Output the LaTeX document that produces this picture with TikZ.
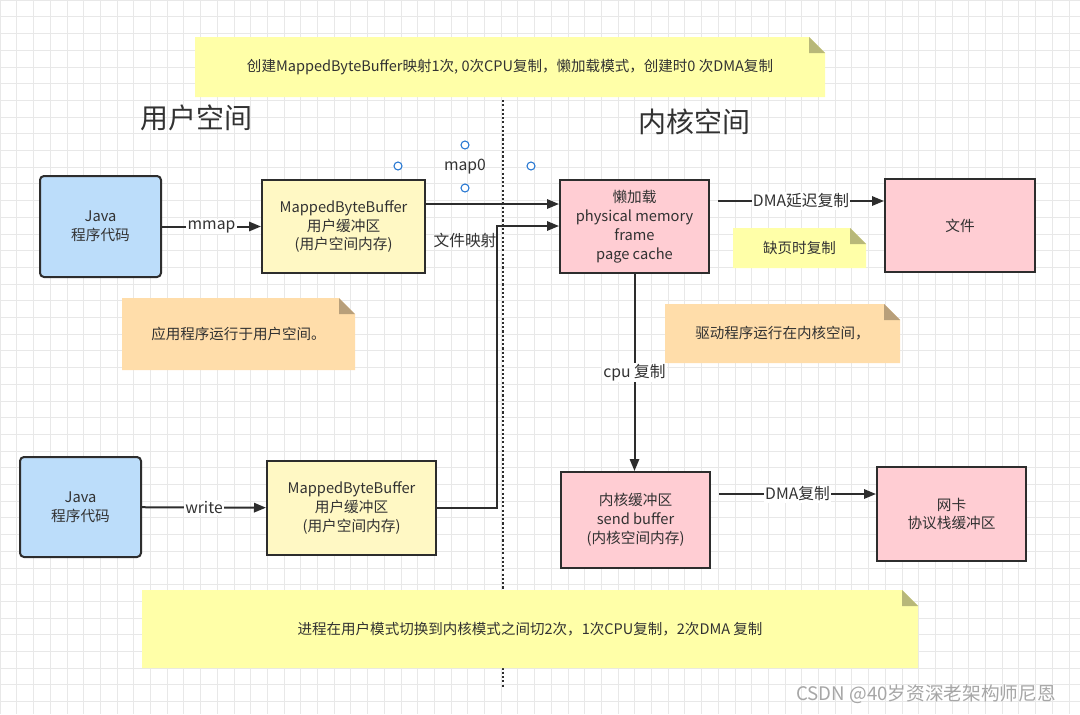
\documentclass[tikz,border=0pt]{standalone}
\usepackage{fontspec}
\setmainfont{Noto Sans CJK SC}
\usetikzlibrary{arrows.meta}
\definecolor{javablue}{RGB}{188,221,250}
\definecolor{bufyellow}{RGB}{255,248,196}
\definecolor{kernpink}{RGB}{255,205,211}
\definecolor{noteyellow}{RGB}{255,255,168}
\definecolor{noteorange}{RGB}{255,221,170}
\definecolor{boxline}{RGB}{45,45,45}
\definecolor{txt}{RGB}{50,50,50}
\definecolor{handle}{RGB}{40,120,210}
\definecolor{gridc}{RGB}{232,232,232}

\tikzset{
  box/.style={draw=boxline,line width=1.5pt,align=center,text=txt,inner sep=0pt,
    font=\fontsize{11}{14.2}\selectfont},
  javabox/.style={box,fill=javablue,rounded corners=3pt},
  userbuf/.style={box,fill=bufyellow},
  kernbuf/.style={box,fill=kernpink},
  arr/.style={line width=1.5pt,draw=boxline,-{Triangle[length=9pt,width=7pt]}},
  lab/.style={fill=white,inner sep=1pt,text=txt,font=\fontsize{11.8}{13}\selectfont},
  note/.style={text=txt,align=center,inner sep=0pt,font=\fontsize{10.9}{13}\selectfont,
    path picture={
      \fill[#1] (path picture bounding box.south west)
        |- ([xshift=-12pt]path picture bounding box.north east)
        -- ([yshift=-12pt]path picture bounding box.north east)
        -- (path picture bounding box.south east) -- cycle;
      \fill[#1!72!black] ([xshift=-12pt]path picture bounding box.north east)
        -- ([xshift=-12pt,yshift=-12pt]path picture bounding box.north east)
        -- ([yshift=-12pt]path picture bounding box.north east) -- cycle;}},
  title/.style={text=txt,font=\fontsize{21}{24}\selectfont},
  dot/.style={circle,draw=handle,fill=white,line width=0.8pt,minimum size=6pt,inner sep=0pt}
}

\begin{document}
\begin{tikzpicture}[x=0.75pt,y=-0.75pt]
\useasboundingbox[fill=white] (0,0) rectangle (1080,714);
\foreach \i in {0,...,64}
  \draw[gridc,line width=0.4pt] (\i*16.7,0) -- (\i*16.7,714);
\foreach \j in {0,...,43}
  \draw[gridc,line width=0.4pt] (0,\j*16.7) -- (1080,\j*16.7);

\node[note=noteyellow,minimum width=630*0.75pt,minimum height=60*0.75pt] (topnote) at (510,67)
  {创建MappedByteBuffer映射1次, 0次CPU复制，懒加载模式，创建时0 次DMA复制};
\node[title] (user) at (196,118) {用户空间};
\node[title] (kernel) at (694,122) {内核空间};

\coordinate (sep top) at (503,100);
\coordinate (sep bot) at (503,688);
\draw[boxline,line width=1.6pt,dash pattern=on 1.6pt off 1.6pt] (sep top) -- (sep bot);

\node[dot] (h1) at (398,166) {};
\node[dot] (h2) at (465,145) {};
\node[dot] (h3) at (465,188) {};
\node[dot] (h4) at (531,166) {};
\node[lab,fill=none] (map) at (465,167) {map0};

\node[javabox,minimum width=121*0.75pt,minimum height=101*0.75pt] (java1) at (100.5,226.5) {Java\\程序代码};
\node[userbuf,minimum width=163*0.75pt,minimum height=93*0.75pt] (mbb1) at (343.5,226.5)
  {MappedByteBuffer\\用户缓冲区\\(用户空间内存)};
\node[kernbuf,minimum width=149*0.75pt,minimum height=93*0.75pt] (pmf) at (634.5,226.5)
  {懒加载\\physical memory\\frame\\page cache};
\node[kernbuf,minimum width=150*0.75pt,minimum height=93*0.75pt] (file) at (960,225.5) {文件};

\node[note=noteyellow,minimum width=133*0.75pt,minimum height=40*0.75pt] (pagenote) at (799.5,248) {缺页时复制};
\node[note=noteorange,minimum width=233*0.75pt,minimum height=72*0.75pt] (usernote) at (238.5,334)
  {应用程序运行于用户空间。};
\node[note=noteorange,minimum width=235*0.75pt,minimum height=59*0.75pt] (kernnote) at (782.5,333.5)
  {驱动程序运行在内核空间，};

\node[javabox,minimum width=121*0.75pt,minimum height=100*0.75pt] (java2) at (80.5,507) {Java\\程序代码};
\node[userbuf,minimum width=169*0.75pt,minimum height=94*0.75pt] (mbb2) at (351.5,508)
  {MappedByteBuffer\\用户缓冲区\\(用户空间内存)};
\node[kernbuf,minimum width=149*0.75pt,minimum height=96*0.75pt] (kbuf) at (635.5,520)
  {内核缓冲区\\send buffer\\(内核空间内存)};
\node[kernbuf,minimum width=149*0.75pt,minimum height=94*0.75pt] (nic) at (951.5,514) {网卡\\协议栈缓冲区};

\node[note=noteyellow,minimum width=776*0.75pt,minimum height=78*0.75pt] (botnote) at (530,629)
  {进程在用户模式切换到内核模式之间切2次，1次CPU复制，2次DMA 复制};
\node[text=gray!70,font=\fontsize{14}{16}\selectfont] (mark) at (926,694) {CSDN @40岁资深老架构师尼恩};

\draw[arr] (java1) -- node[lab] {mmap} (mbb1);
\draw[arr] (mbb1.east |- 0,204) -- (pmf.west |- 0,204);
\coordinate (turn) at (497,226);
\draw[arr] (mbb2.east) -| (turn) -- (pmf.west |- turn);
\node[lab,fill=none] (fmap) at (465,240) {文件映射};
\draw[arr] ([xshift=6pt]pmf.east |- 0,201) -- node[lab] {DMA延迟复制} (file.west |- 0,201);
\draw[arr] (pmf.south) -- node[lab,pos=0.5] {cpu 复制} (kbuf.north -| pmf.south);
\draw[arr] (java2) -- node[lab] {write} (mbb2);
\draw[arr] ([xshift=6pt]kbuf.east |- 0,494) -- node[lab] {DMA复制} (nic.west |- 0,494);
\end{tikzpicture}
\end{document}
